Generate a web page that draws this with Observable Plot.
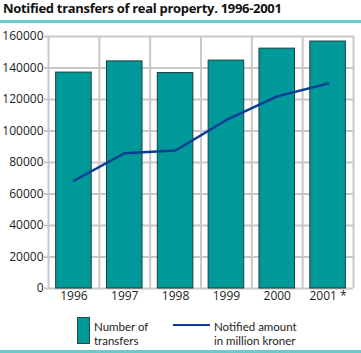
<!DOCTYPE html>
<html><head><meta charset="utf-8">
<script src="https://cdn.jsdelivr.net/npm/d3@7"></script>
<script src="https://cdn.jsdelivr.net/npm/@observablehq/plot@0.6"></script>
<style>
body{margin:0;background:#fff;}
#wrap{position:relative;width:361px;height:353px;overflow:hidden;font-family:"Open Sans",sans-serif;color:#222;}
#title{position:absolute;left:3px;top:2px;font-weight:bold;font-size:13px;line-height:13px;letter-spacing:-0.3px;white-space:nowrap;color:#111;}
.rule{position:absolute;left:0;width:361px;height:3px;background:#66cccc;}
#chart{position:absolute;left:0;top:23px;}
.leg{position:absolute;font-family:Lato,"Open Sans",sans-serif;font-size:11.5px;line-height:14px;color:#222;white-space:nowrap;}
.sw{position:absolute;box-sizing:border-box;}
</style></head>
<body>
<div id="wrap">
  <div id="title">Notified transfers of real property. 1996-2001</div>
  <div class="rule" style="top:20px"></div>
  <div id="chart"></div>
  <div class="sw" style="left:77px;top:317px;width:13px;height:27px;background:#009999;border:1px solid #2b4b4b;"></div>
  <div class="leg" style="left:94px;top:320px;">Number of</div>
  <div class="leg" style="left:94px;top:334px;">transfers</div>
  <div class="sw" style="left:173px;top:324px;width:37px;height:2px;background:#0b3d96;"></div>
  <div class="leg" style="left:214px;top:320px;">Notified amount</div>
  <div class="leg" style="left:214px;top:334px;">in million kroner</div>
  <div class="rule" style="top:350px"></div>
</div>
<script>
const years = ["1996", "1997", "1998", "1999", "2000", "2001"];
const yearLabels = ["1996", "1997", "1998", "1999", "2000", "2001 *"];
const transfers = [137100, 144200, 136800, 144700, 152300, 156800];
const amounts = [68400, 85900, 87600, 107000, 122000, 130200];
const yTicks = [0, 20000, 40000, 60000, 80000, 100000, 120000, 140000, 160000];

const rows = years.map((y, i) => ({i, year: y, transfers: transfers[i], amount: amounts[i]}));
const grid = "#c8c8c8";

const chart = Plot.plot({
  width: 361,
  height: 282,
  marginTop: 13,
  marginBottom: 17,
  marginLeft: 48,
  marginRight: 8,
  style: {fontFamily: "Open Sans, sans-serif", fontSize: "12px", color: "#222", background: "transparent"},
  x: {type: "linear", domain: [0, years.length], axis: null},
  y: {domain: [0, 160000], axis: null},
  marks: [
    Plot.ruleY(yTicks, {stroke: grid, strokeWidth: 2}),
    Plot.ruleX(d3.range(years.length + 1), {stroke: grid, strokeWidth: 2}),
    Plot.axisY(yTicks, {tickSize: 4, tickPadding: 1, stroke: grid, strokeWidth: 2, tickFormat: d => String(d), fontSize: 12, fill: "#222"}),
    Plot.axisX(rows.map(d => d.i + 0.5), {tickSize: 0, tickPadding: 3, tickFormat: d => yearLabels[Math.floor(d)], fontSize: 12, fill: "#222"}),
    Plot.rectY(rows, {x1: d => d.i + 0.15, x2: d => d.i + 0.85, y: "transfers", fill: "#009999", stroke: "#1e3f3f", strokeWidth: 1}),
    Plot.line(rows, {x: d => d.i + 0.5, y: "amount", stroke: "#0b3d96", strokeWidth: 2.5})
  ]
});
document.getElementById("chart").appendChild(chart);
</script>
</body></html>
